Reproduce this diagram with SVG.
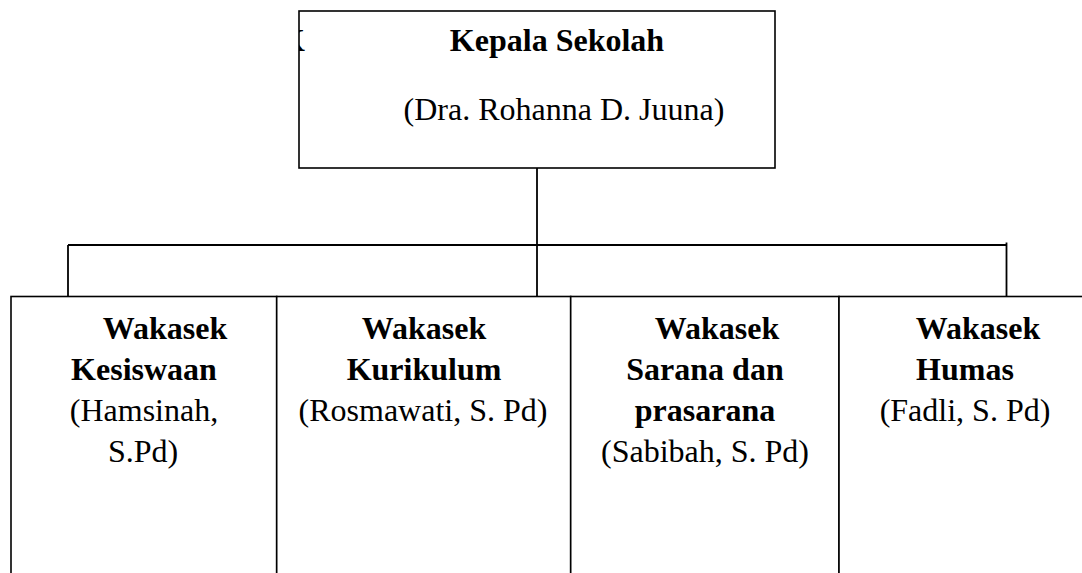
<svg xmlns="http://www.w3.org/2000/svg" width="1082" height="573" viewBox="0 0 1082 573">
<style>
.box{fill:#fff;stroke:#000;stroke-width:1.6}
.ln{fill:none;stroke:#000;stroke-width:1.8}
text{font-family:"Liberation Serif","Times New Roman",serif;font-size:32px;fill:#000}
.b{font-weight:bold}
.m{text-anchor:middle}
</style>
<defs>
<clipPath id="topclip"><rect x="299" y="11" width="480" height="157"/></clipPath>
</defs>
<rect width="1082" height="573" fill="#fff"/>
<g id="connectors">
<line class="ln" x1="537" y1="168" x2="537" y2="297"/>
<line class="ln" x1="68" y1="245" x2="1006.5" y2="245"/>
<line class="ln" x1="68" y1="245" x2="68" y2="297"/>
<line class="ln" x1="1006.5" y1="242.5" x2="1006.5" y2="297"/>
</g>
<g id="kepala">
<rect class="box" x="299" y="11" width="476" height="157"/>
<text class="b" x="280" y="51" clip-path="url(#topclip)">K</text>
<text class="b m" x="557" y="51">Kepala Sekolah</text>
<text class="m" x="564" y="120">(Dra. Rohanna D. Juuna)</text>
</g>
<g id="kesiswaan">
<rect class="box" x="11" y="296.5" width="265.7" height="300"/>
<text class="b m" x="165" y="339">Wakasek</text>
<text class="b m" x="144" y="380">Kesiswaan</text>
<text class="m" x="144" y="421">(Hamsinah,</text>
<text class="m" x="143" y="462">S.Pd)</text>
</g>
<g id="kurikulum">
<rect class="box" x="276.7" y="296.5" width="294" height="300"/>
<text class="b m" x="424" y="339">Wakasek</text>
<text class="b m" x="424" y="380">Kurikulum</text>
<text class="m" x="423" y="421">(Rosmawati, S. Pd)</text>
</g>
<g id="sarana">
<rect class="box" x="570.7" y="296.5" width="268.3" height="300"/>
<text class="b m" x="717" y="339">Wakasek</text>
<text class="b m" x="705" y="380">Sarana dan</text>
<text class="b m" x="705" y="421">prasarana</text>
<text class="m" x="705" y="462">(Sabibah, S. Pd)</text>
</g>
<g id="humas">
<rect class="box" x="839" y="296.5" width="260" height="300"/>
<text class="b m" x="978" y="339">Wakasek</text>
<text class="b m" x="965" y="380">Humas</text>
<text class="m" x="965" y="421">(Fadli, S. Pd)</text>
</g>
</svg>
